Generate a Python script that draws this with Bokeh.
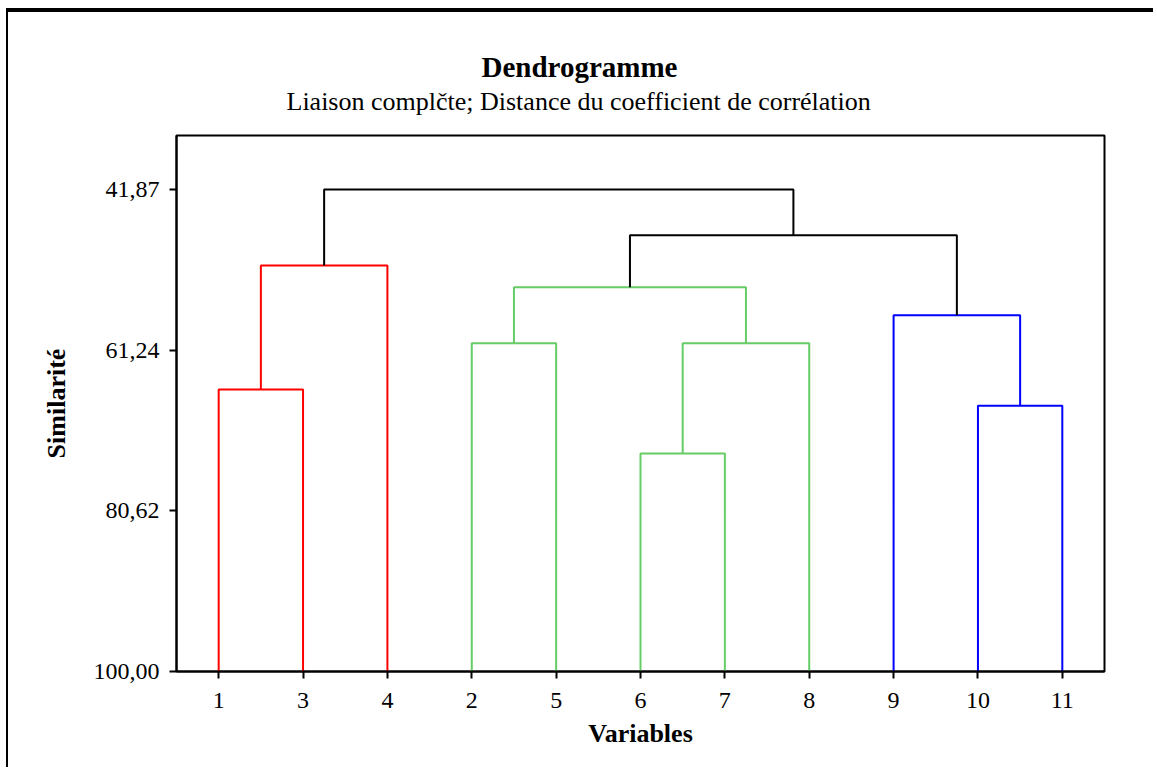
from bokeh.plotting import figure
from bokeh.models import Range1d, FixedTicker, CustomJSTickFormatter, Title, ColumnDataSource
from bokeh.embed import file_html
from bokeh.resources import INLINE

# ---- data ----
leaf_labels = ["1", "3", "4", "2", "5", "6", "7", "8", "9", "10", "11"]
# children: 0..10 = leaves in display order, 11+ = clusters created by earlier merges
merge_left = [0, 11, 3, 5, 14, 13, 9, 8, 16, 12]
merge_right = [1, 2, 4, 6, 7, 15, 10, 17, 18, 19]
merge_similarity = [65.99, 51.04, 60.41, 73.71, 60.41, 53.65, 67.96, 57.03, 47.38, 41.87]
merge_color = ["#FF0000", "#FF0000", "#66CC66", "#66CC66", "#66CC66", "#66CC66",
               "#0000FF", "#0000FF", "#000000", "#000000"]
y_ticks = [41.87, 61.24, 80.62, 100.00]

FONT = "Liberation Serif"

# ---- build dendrogram links ----
n = len(leaf_labels)
pos = {i: i + 1 for i in range(n)}
hgt = {i: 100.0 for i in range(n)}
xs, ys = [], []
for k, (l, r, s) in enumerate(zip(merge_left, merge_right, merge_similarity)):
    xl, xr = pos[l], pos[r]
    xs.append([xl, xl, xr, xr])
    ys.append([hgt[l], s, s, hgt[r]])
    pos[n + k] = (xl + xr) / 2
    hgt[n + k] = s
src = ColumnDataSource(dict(xs=xs, ys=ys, color=merge_color))

p = figure(frame_width=928, frame_height=536,
           min_border_left=168, min_border_right=49, min_border_top=123, min_border_bottom=96,
           x_range=Range1d(0.5, 11.5), y_range=Range1d(100, 35.36),
           output_backend="svg", toolbar_location=None, title=None)
p.styles = {"margin-top": "8px", "margin-left": "6px",
            "border-top": "4px solid black", "border-left": "2px solid black"}

p.multi_line(xs="xs", ys="ys", line_color="color", line_width=2, source=src)

p.grid.visible = False
p.outline_line_color = "black"
p.outline_line_width = 2
p.outline_line_alpha = 1

for ax in (p.xaxis[0], p.yaxis[0]):
    ax.axis_line_width = 2
    ax.major_tick_line_width = 2
    ax.major_tick_out = 7
    ax.major_tick_in = 0
    ax.minor_tick_line_color = None
    ax.major_label_text_font = FONT
    ax.major_label_text_font_size = "24px"
    ax.major_label_text_color = "black"
    ax.axis_label_text_font = FONT
    ax.axis_label_text_font_size = "26px"
    ax.axis_label_text_font_style = "bold"
    ax.axis_label_text_color = "black"

p.xaxis.ticker = FixedTicker(ticks=list(range(1, n + 1)))
p.xaxis.major_label_overrides = {i + 1: lab for i, lab in enumerate(leaf_labels)}
p.xaxis.axis_label = "Variables"
p.xaxis.major_label_standoff = 14
p.xaxis.axis_label_standoff = 8

p.yaxis.ticker = FixedTicker(ticks=y_ticks)
p.yaxis.formatter = CustomJSTickFormatter(code="return tick.toFixed(2).replace('.', ',');")
p.yaxis.axis_label = "Similarité"
p.yaxis.major_label_standoff = 10
p.yaxis.axis_label_standoff = 20

p.add_layout(Title(text="Liaison complčte; Distance du coefficient de corrélation",
                   align="left", offset=110, text_font=FONT, text_font_size="26px",
                   text_font_style="normal", text_color="black", standoff=40), "above")
p.add_layout(Title(text="Dendrogramme", align="left", offset=305, text_font=FONT,
                   text_font_size="29px", text_font_style="bold", text_color="black",
                   standoff=-36), "above")

open("out.html", "w").write(file_html(p, INLINE))
